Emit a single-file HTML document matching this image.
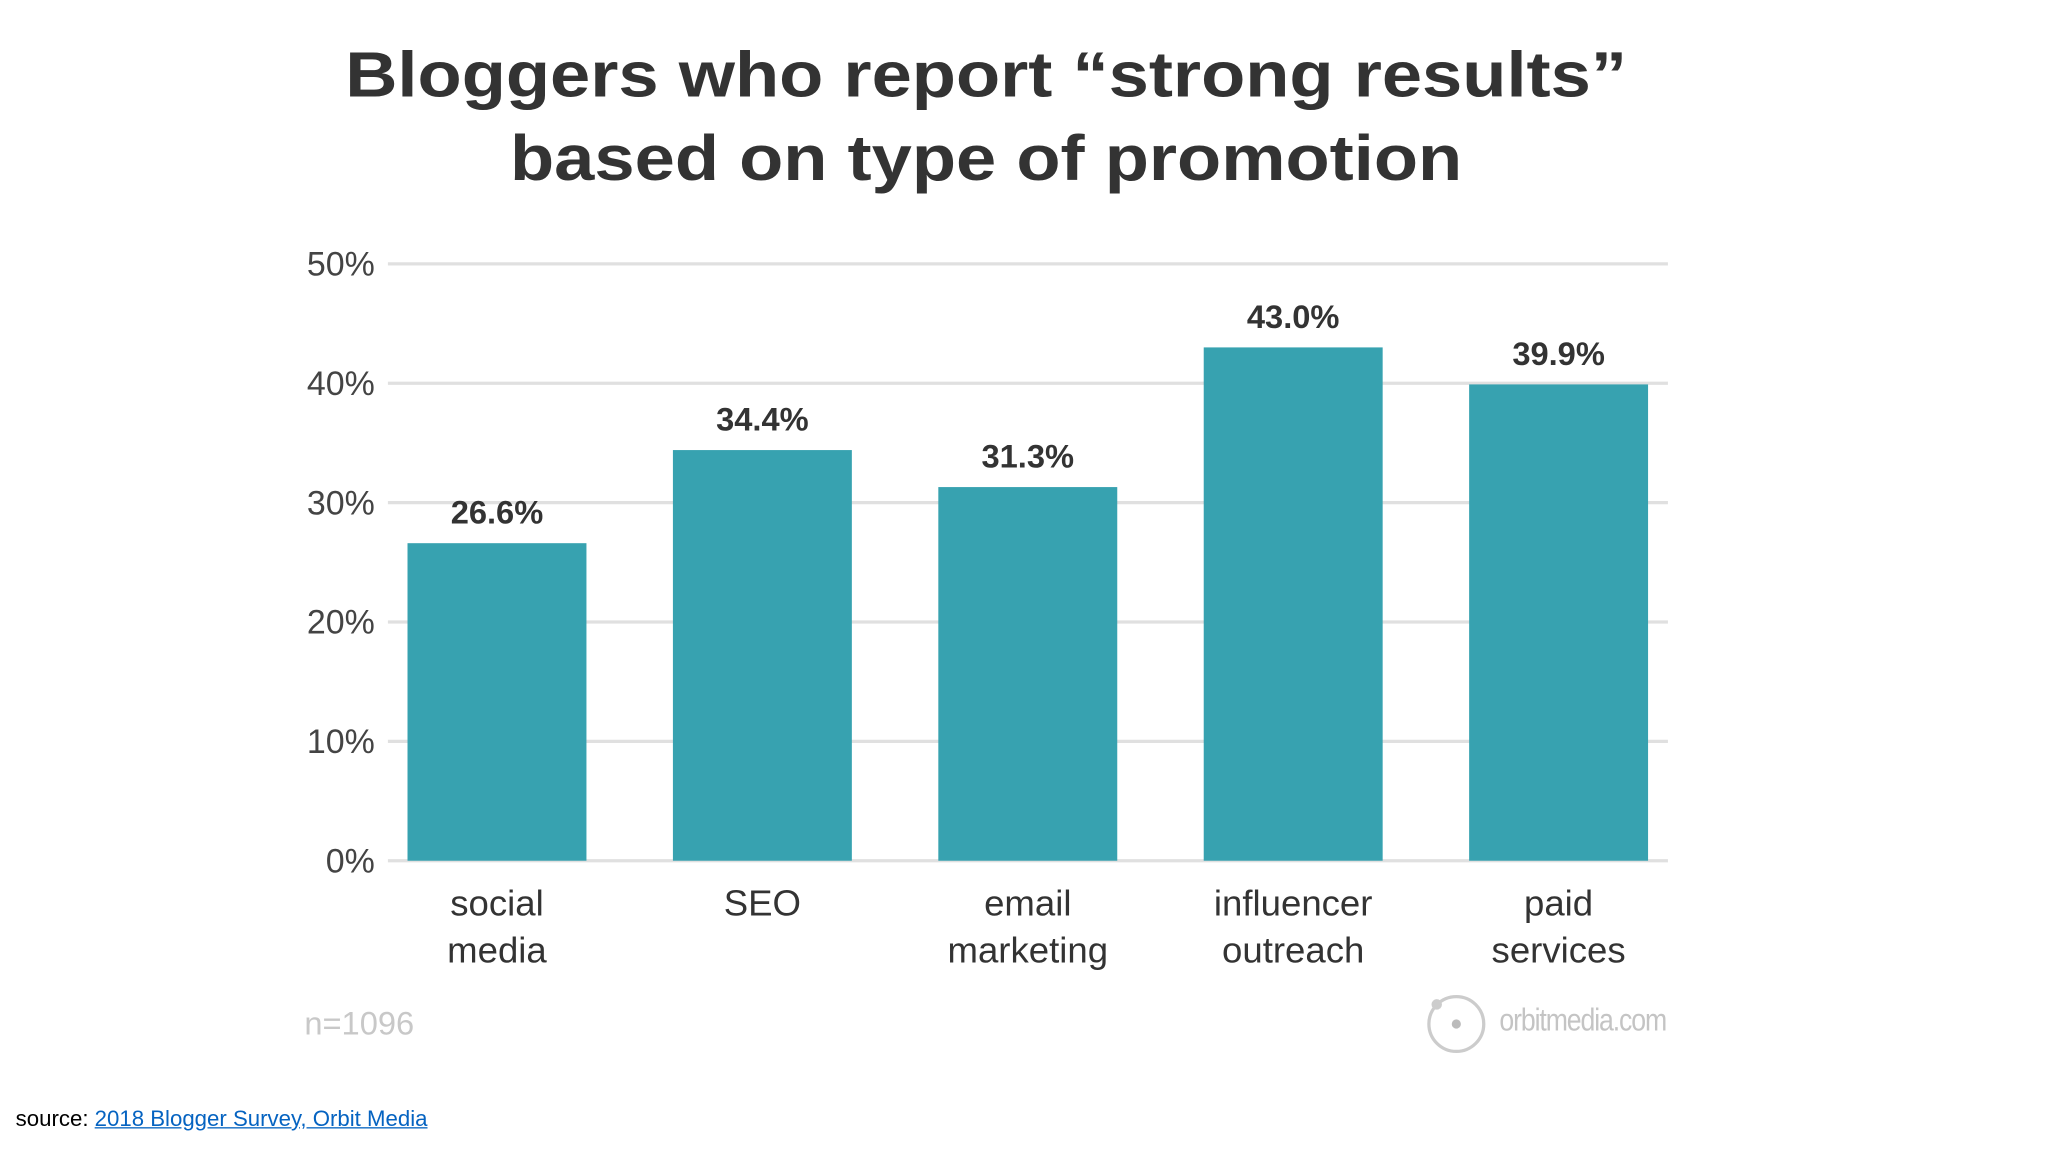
<!DOCTYPE html>
<html><head><meta charset="utf-8"><style>
html,body{margin:0;padding:0;background:#fff;overflow:hidden;width:2048px;height:1152px}
#stage{position:absolute;left:0;top:0;width:1568px;height:882px;transform:scale(1.306122);transform-origin:0 0;font-family:"Liberation Sans",sans-serif}
.t{position:absolute;white-space:nowrap}
</style></head><body>
<div id="stage">
<div class="t" style="left:0;width:1510px;top:26px;text-align:center;font-weight:bold;font-size:49px;line-height:64px;color:#333;transform:scaleX(1.13);transform-origin:755px 0">Bloggers who report “strong results”<br>based on type of promotion</div>
<svg id="chart" width="1568" height="882" style="position:absolute;left:0;top:0"></svg>
<div class="t" style="left:233px;top:770px;font-size:25px;color:#c8c8c8">n=1096</div>
<svg class="t" style="left:1090px;top:758px" width="52" height="52"><circle cx="25" cy="26" r="21" fill="none" stroke="#ccc" stroke-width="2.5"/><circle cx="25" cy="26" r="3.5" fill="#bbb"/><circle cx="10" cy="11" r="4" fill="#ccc"/></svg>
<div class="t" style="left:1148px;top:768px;font-size:24px;color:#c4c4c4;letter-spacing:-1px;transform:scaleX(0.85);transform-origin:0 0">orbitmedia.com</div>
<div class="t" style="left:12px;top:847px;font-size:17px;color:#000">source: <a style="color:#0563c1;text-decoration:underline">2018 Blogger Survey, Orbit Media</a></div>
</div>
<script>
const categories=[["social","media"],["SEO"],["email","marketing"],["influencer","outreach"],["paid","services"]];
const values=[26.6,34.4,31.3,43.0,39.9];
const valueLabels=["26.6%","34.4%","31.3%","43.0%","39.9%"];
const ticks=[0,10,20,30,40,50];
const tickLabels=["0%","10%","20%","30%","40%","50%"];
const NS="http://www.w3.org/2000/svg";
const svg=document.getElementById('chart');
const y0=659,y1=202,xL=297,xR=1277,barX0=312,pitch=203.2,bw=137;
const y=v=>y0-(v/50)*(y0-y1);
const xc=i=>barX0+i*pitch+bw/2;
function mk(tag,attrs,txt){const e=document.createElementNS(NS,tag);for(const k in attrs)e.setAttribute(k,attrs[k]);if(txt!=null)e.textContent=txt;svg.appendChild(e);return e;}
ticks.forEach((t,i)=>{
 const g=mk('line',{x1:xL,x2:xR,y1:y(t),y2:y(t),stroke:'#e0e0e0','stroke-width':2.5});
 
 
 const l=mk('text',{x:287,y:y(t)+9,'text-anchor':'end','font-size':26,fill:'#444','font-family':'Liberation Sans, sans-serif'},tickLabels[i]);
 
 
});
values.forEach((v,i)=>{
 const b=mk('rect',{x:barX0+i*pitch,y:y(v),width:bw,height:y0-y(v),fill:'#37a2b0'});
 
 
 const l=mk('text',{x:xc(i),y:y(v)-15,'text-anchor':'middle','font-size':25,'font-weight':'bold',fill:'#333','font-family':'Liberation Sans, sans-serif'},valueLabels[i]);
 
 
 categories[i].forEach((w,j)=>{
  const c=mk('text',{x:xc(i),y:701+j*36,'text-anchor':'middle','font-size':28,fill:'#333','font-family':'Liberation Sans, sans-serif'},w);
  
  
 });
});
</script>
</body></html>
